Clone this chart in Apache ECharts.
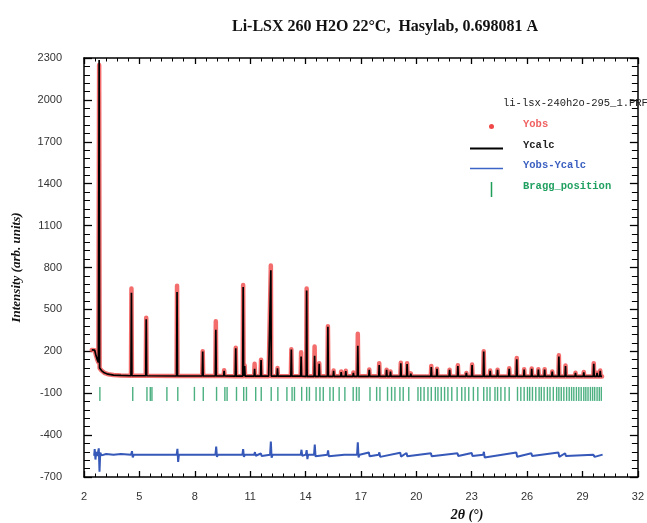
<!DOCTYPE html>
<html>
<head>
<meta charset="utf-8">
<script src="https://cdn.jsdelivr.net/npm/echarts@6/dist/echarts.min.js"></script>
<style>
html,body{margin:0;padding:0;background:#fff;}
#chart{width:647px;height:523px;}
</style>
</head>
<body>
<div id="chart"></div>
<script>
// ---------------- data ----------------
const xTickLabels = [2, 5, 8, 11, 14, 17, 20, 23, 26, 29, 32];
const yTickLabels = [-700, -400, -100, 200, 500, 800, 1100, 1400, 1700, 2000, 2300];

// background of the pattern (2theta, intensity)
const bgTheta = [2.42, 2.58, 2.64, 2.72, 2.78, 2.88, 2.95, 3.1, 3.3, 3.6, 4.0, 5.0, 8.0, 12.0, 16.0, 20.0, 25.0, 30.06];
const bgInt   = [210, 208, 175, 140, 120, 80, 62, 46, 36, 30, 27, 25, 23, 22, 21, 20, 20, 20];

// reflections: position, observed maximum, calculated maximum
const peakTheta = [2.82, 4.57, 5.37, 7.04, 8.43, 9.14, 9.59, 10.22, 10.62, 10.70, 11.24, 11.59, 12.12, 12.48, 13.23, 13.76, 14.06, 14.49, 14.74, 15.21, 15.52, 15.93, 16.18, 16.59, 16.83, 17.45, 17.99, 18.39, 18.60, 19.16, 19.50, 19.70, 20.81, 21.12, 21.80, 22.25, 22.71, 23.02, 23.65, 24.00, 24.40, 25.03, 25.44, 25.84, 26.25, 26.61, 26.95, 27.36, 27.72, 28.08, 28.62, 29.07, 29.61, 29.79, 29.96];
const peakObs   = [2250, 650, 440, 670, 200, 415, 65, 225, 675, 100, 110, 140, 815, 80, 215, 193, 650, 235, 115, 380, 62, 55, 60, 48, 325, 70, 115, 68, 55, 118, 115, 42, 95, 75, 68, 100, 45, 105, 200, 62, 68, 78, 152, 72, 77, 72, 72, 56, 172, 98, 46, 52, 115, 46, 62];
const peakCalc  = [2285, 620, 430, 625, 198, 355, 60, 222, 660, 95, 75, 138, 780, 78, 212, 162, 635, 168, 110, 375, 60, 52, 58, 45, 240, 67, 102, 67, 55, 114, 108, 40, 88, 75, 67, 95, 45, 102, 198, 60, 67, 75, 143, 70, 75, 70, 70, 55, 162, 95, 45, 50, 110, 45, 60];

// difference curve Yobs-Ycalc (already shifted as plotted)
const diffTheta = [2.55, 2.58, 2.62, 2.66, 2.70, 2.75, 2.80, 2.84, 2.88, 2.95, 3.2, 3.6, 4.0, 4.55, 4.60, 4.64, 4.70, 5.36, 5.40, 5.44, 6.5, 7.02, 7.06, 7.10, 7.14, 8.0, 8.42, 8.46, 8.50, 9.12, 9.16, 9.20, 9.26, 10.2, 10.58, 10.62, 10.66, 10.72, 11.22, 11.26, 11.30, 11.58, 11.62, 12.08, 12.12, 12.16, 12.22, 13.2, 13.24, 13.74, 13.78, 13.82, 14.02, 14.06, 14.10, 14.14, 14.46, 14.50, 14.54, 14.60, 15.18, 15.22, 15.26, 16.1, 16.79, 16.83, 16.87, 16.93, 17.43, 17.47, 17.96, 18.00, 18.04, 19.13, 19.17, 19.47, 19.51, 20.79, 20.83, 22.23, 22.27, 23.00, 23.04, 23.62, 23.66, 23.70, 25.42, 25.46, 26.23, 26.27, 27.70, 27.74, 28.06, 28.10, 29.58, 29.62, 29.66, 30.09];
const diffInt   = [-548, -500, -575, -520, -550, -530, -495, -662, -525, -545, -535, -540, -535, -540, -515, -560, -540, -540, -528, -552, -540, -540, -498, -592, -540, -540, -540, -528, -550, -540, -482, -556, -540, -540, -540, -500, -556, -540, -540, -522, -548, -532, -550, -540, -447, -562, -540, -540, -528, -540, -505, -548, -540, -508, -572, -540, -540, -468, -552, -540, -540, -510, -552, -540, -540, -452, -560, -540, -525, -552, -540, -524, -556, -526, -554, -528, -552, -530, -552, -530, -550, -528, -550, -540, -520, -560, -525, -555, -530, -550, -525, -556, -530, -550, -540, -527, -556, -540];

// Bragg reflection positions
const braggTheta = [2.86, 4.64, 5.41, 5.59, 5.68, 6.49, 7.08, 7.98, 8.46, 9.18, 9.63, 9.75, 10.26, 10.65, 10.80, 11.30, 11.60, 12.14, 12.50, 12.99, 13.27, 13.40, 13.79, 14.06, 14.21, 14.57, 14.78, 14.96, 15.32, 15.50, 15.82, 16.13, 16.58, 16.76, 16.90, 17.49, 17.85, 18.03, 18.44, 18.66, 18.84, 19.11, 19.29, 19.59, 20.09, 20.24, 20.42, 20.63, 20.81, 21.03, 21.17, 21.35, 21.53, 21.71, 21.92, 22.21, 22.46, 22.64, 22.84, 23.09, 23.33, 23.65, 23.83, 23.99, 24.26, 24.40, 24.58, 24.80, 25.03, 25.48, 25.66, 25.84, 26.02, 26.14, 26.29, 26.47, 26.65, 26.77, 26.92, 27.10, 27.24, 27.42, 27.60, 27.72, 27.85, 27.99, 28.14, 28.28, 28.41, 28.53, 28.67, 28.80, 28.93, 29.07, 29.18, 29.30, 29.43, 29.55, 29.66, 29.79, 29.91, 30.02];
const braggLevel = -105;

// ---------------- layout constants ----------------
const X0 = 2;      // axis origin of 2theta
const Y0 = -700;   // axis origin of intensity
const peakHalfBase = 0.025;

function nearestBg(x) {
  let best = 0;
  for (let i = 1; i < bgTheta.length; i++) {
    if (Math.abs(bgTheta[i] - x) < Math.abs(bgTheta[best] - x)) best = i;
  }
  return bgInt[best];
}
function buildProfile(heights) {
  const pts = bgTheta.map((t, i) => [t, bgInt[i], 0]);
  peakTheta.forEach((p, i) => {
    pts.push([p - peakHalfBase, nearestBg(p - peakHalfBase), 1]);
    pts.push([p, heights[i], 2]);
    pts.push([p + peakHalfBase, nearestBg(p + peakHalfBase), 3]);
  });
  pts.sort((a, b) => a[0] - b[0] || a[2] - b[2]);
  return pts.map(p => [p[0] - X0, p[1] - Y0]);
}

const obsData = buildProfile(peakObs);
const calcData = buildProfile(peakCalc);
const diffData = diffTheta.map((t, i) => [t - X0, diffInt[i] - Y0]);
const braggData = braggTheta.map(t => [t - X0, braggLevel - Y0]);

const axisCommon = {
  type: 'value',
  axisLine: { show: true, onZero: false, lineStyle: { color: '#000', width: 1.5 } },
  splitLine: { show: false },
};

const chart = echarts.init(document.getElementById('chart'), null, { renderer: 'canvas' });
chart.setOption({
  animation: false,
  backgroundColor: '#fff',
  title: {
    text: 'Li-LSX 260 H2O 22°C,  Hasylab, 0.698081 A',
    left: 227, top: 14,
    textStyle: { fontFamily: 'Liberation Serif', fontWeight: 'bold', fontSize: 16, color: '#111' }
  },
  grid: { left: 84, right: 6, top: 58, bottom: 46 },
  xAxis: [
    Object.assign({}, axisCommon, {
      position: 'bottom', min: 0, max: (xTickLabels[xTickLabels.length - 1] - X0), interval: xTickLabels[1] - xTickLabels[0],
      axisTick: { inside: true, length: 6, lineStyle: { color: '#000', width: 1.3 } },
      minorTick: { show: true, splitNumber: 5, length: 3.5, lineStyle: { color: '#000', width: 1 } },
      axisLabel: { margin: 14, fontFamily: 'Liberation Sans', fontSize: 11, color: '#333', formatter: v => String(v + X0) }
    }),
    Object.assign({}, axisCommon, {
      position: 'top', min: 0, max: (xTickLabels[xTickLabels.length - 1] - X0), interval: xTickLabels[1] - xTickLabels[0],
      axisTick: { inside: true, length: 6, lineStyle: { color: '#000', width: 1.3 } },
      minorTick: { show: true, splitNumber: 5, length: 3.5, lineStyle: { color: '#000', width: 1 } },
      axisLabel: { show: false }
    })
  ],
  yAxis: [
    Object.assign({}, axisCommon, {
      position: 'left', min: 0, max: (yTickLabels[yTickLabels.length - 1] - Y0), interval: yTickLabels[1] - yTickLabels[0],
      axisTick: { inside: true, length: 8, lineStyle: { color: '#000', width: 1.3 } },
      minorTick: { show: true, splitNumber: 5, length: 6, lineStyle: { color: '#000', width: 1 } },
      axisLabel: { margin: 22, fontFamily: 'Liberation Sans', fontSize: 11, color: '#333', formatter: v => String(v + Y0) },
      name: 'Intensity (arb. units)', nameLocation: 'middle', nameGap: 61,
      nameTextStyle: { fontFamily: 'Liberation Serif', fontStyle: 'italic', fontWeight: 'bold', fontSize: 13, color: '#111' }
    }),
    Object.assign({}, axisCommon, {
      position: 'right', min: 0, max: (yTickLabels[yTickLabels.length - 1] - Y0), interval: yTickLabels[1] - yTickLabels[0],
      axisTick: { inside: true, length: 8, lineStyle: { color: '#000', width: 1.3 } },
      minorTick: { show: true, splitNumber: 5, length: 6, lineStyle: { color: '#000', width: 1 } },
      axisLabel: { show: false }
    })
  ],
  series: [
    {
      name: 'Yobs', type: 'line', data: obsData, showSymbol: false, z: 2,
      lineStyle: { color: '#f04848', width: 4.5, opacity: 0.8, cap: 'round', join: 'round' }
    },
    {
      name: 'Ycalc', type: 'line', data: calcData, showSymbol: false, z: 3,
      lineStyle: { color: '#000', width: 1.7 }
    },
    {
      name: 'Yobs-Ycalc', type: 'line', data: diffData, showSymbol: false, z: 3,
      lineStyle: { color: '#3658b8', width: 2 }
    },
    {
      name: 'Bragg_position', type: 'scatter', data: braggData, z: 3,
      symbol: 'rect', symbolSize: [1.4, 14], itemStyle: { color: '#1f9c62' }
    }
  ],
  graphic: [
    { type: 'text', x: 503, y: 103, z: 10, style: { text: 'li-lsx-240h2o-295_1.PRF', font: '10.5px "Liberation Mono"', fill: '#222', verticalAlign: 'middle' } },
    { type: 'circle', z: 10, shape: { cx: 491.5, cy: 126.5, r: 2.5 }, style: { fill: '#f04848' } },
    { type: 'text', x: 523, y: 124, z: 10, style: { text: 'Yobs', font: 'bold 10.5px "Liberation Mono"', fill: '#f06060', verticalAlign: 'middle' } },
    { type: 'line', z: 10, shape: { x1: 470, y1: 148.5, x2: 503, y2: 148.5 }, style: { stroke: '#000', lineWidth: 2 } },
    { type: 'text', x: 523, y: 145, z: 10, style: { text: 'Ycalc', font: 'bold 10.5px "Liberation Mono"', fill: '#222', verticalAlign: 'middle' } },
    { type: 'line', z: 10, shape: { x1: 470, y1: 168.5, x2: 503, y2: 168.5 }, style: { stroke: '#3d65c8', lineWidth: 1.5 } },
    { type: 'text', x: 523, y: 165, z: 10, style: { text: 'Yobs-Ycalc', font: 'bold 10.5px "Liberation Mono"', fill: '#3a5fc0', verticalAlign: 'middle' } },
    { type: 'line', z: 10, shape: { x1: 491.5, y1: 182, x2: 491.5, y2: 197 }, style: { stroke: '#1f9e5a', lineWidth: 1.5 } },
    { type: 'text', x: 523, y: 186.5, z: 10, style: { text: 'Bragg_position', font: 'bold 10.5px "Liberation Mono"', fill: '#20a060', verticalAlign: 'middle' } },
    { type: 'text', x: 467, y: 515, z: 10, style: { text: '2θ (°)', font: 'italic bold 14px "Liberation Serif"', fill: '#111', align: 'center', verticalAlign: 'middle' } }
  ]
});
</script>
</body>
</html>
